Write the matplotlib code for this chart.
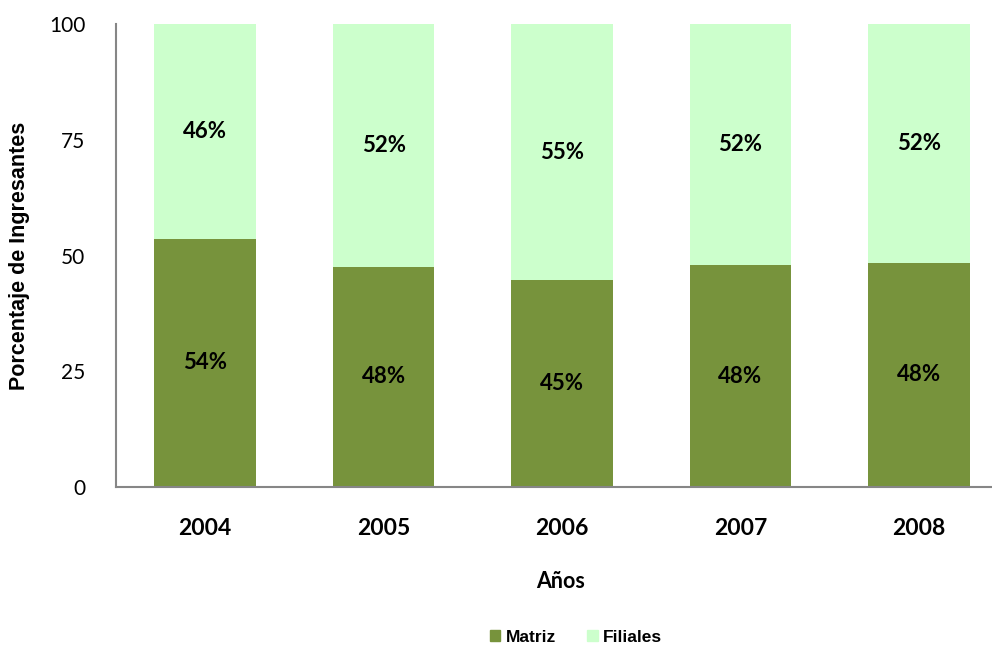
import matplotlib
matplotlib.use("Agg")
import matplotlib.pyplot as plt
from matplotlib.patches import Patch

years = ["2004", "2005", "2006", "2007", "2008"]
matriz = [53.6, 47.6, 44.7, 47.9, 48.4]
filiales = [100 - v for v in matriz]
yticks = [0, 25, 50, 75, 100]

c_matriz = "#77933C"
c_fil = "#CCFFCC"

fig = plt.figure(figsize=(9.92, 6.49), dpi=100)
W, H = 992, 649
ax = fig.add_axes([116 / W, 1 - 487 / H, (992 - 116) / W, (487 - 24) / H])

x = list(range(len(years)))
bw = 0.57
ax.bar(x, matriz, width=bw, color=c_matriz, label="Matriz")
ax.bar(x, filiales, width=bw, bottom=matriz, color=c_fil, label="Filiales")

for i in x:
    ax.text(i, matriz[i] / 2, f"{round(matriz[i])}%", ha="center", va="center",
            fontsize=16, fontweight="bold", family="Lato")
    ax.text(i, matriz[i] + filiales[i] / 2, f"{round(filiales[i])}%", ha="center", va="center",
            fontsize=16, fontweight="bold", family="Lato")

ax.set_xlim(-0.5, 4.5 - 16 / 178.6)
ax.set_ylim(0, 100)
ax.set_yticks(yticks)
ax.set_yticklabels([str(t) for t in yticks], fontsize=15, family="Lato")
ax.set_xticks(x)
ax.set_xticklabels(years, fontsize=16.5, fontweight="bold", family="Lato")
ax.tick_params(axis="y", length=0, pad=22)
ax.tick_params(axis="x", length=0, pad=22)
for s in ["top", "right"]:
    ax.spines[s].set_visible(False)
for s in ["left", "bottom"]:
    ax.spines[s].set_color("#868686")
    ax.spines[s].set_linewidth(1.5)

fig.text(20 / W, 1 - 256 / H, "Porcentaje de Ingresantes", rotation=90, ha="center", va="center",
         fontsize=15.5, fontweight="bold", family="Liberation Sans")
fig.text(561 / W, 1 - 581 / H, "Años", ha="center", va="center",
         fontsize=15.5, fontweight="bold", family="Lato")

handles = [Patch(color=c_matriz, label="Matriz"), Patch(color=c_fil, label="Filiales")]
fig.legend(handles=handles, loc="center", bbox_to_anchor=(576 / W, 1 - 637 / H), ncol=2,
           frameon=False, prop={"family": "Liberation Sans", "weight": "bold", "size": 12.5},
           handlelength=0.6, handleheight=0.6, handletextpad=0.3, columnspacing=1.8)

fig.savefig("out.png", dpi=100)
